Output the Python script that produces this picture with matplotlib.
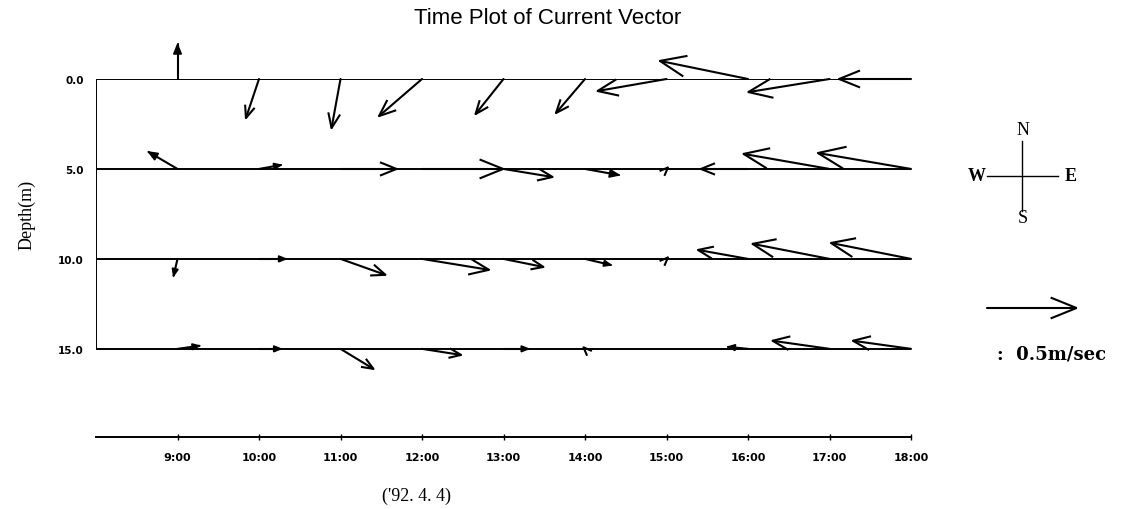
import matplotlib
matplotlib.use("Agg")
import matplotlib.pyplot as plt
import numpy as np

# time axis (hours) and depths (m)
hours = [9, 10, 11, 12, 13, 14, 15, 16, 17, 18]
hour_labels = ["9:00", "10:00", "11:00", "12:00", "13:00",
               "14:00", "15:00", "16:00", "17:00", "18:00"]
depths = [0.0, 5.0, 10.0, 15.0]
depth_labels = ["0.0", "5.0", "10.0", "15.0"]

# current components, m/s (u = east, v = north)
u_0m = [0.000, -0.073, -0.050, -0.240, -0.156, -0.162, -0.385, -0.492, -0.453, -0.402]
v_0m = [0.193, -0.218, -0.274, -0.207, -0.196, -0.190, -0.067, 0.101, -0.073, 0.000]

u_5m = [-0.162, 0.123, 0.313, 0.453, 0.274, 0.190, 0.008, -0.263, -0.480, -0.520]
v_5m = [0.095, 0.022, 0.000, 0.000, -0.045, -0.034, 0.008, 0.000, 0.084, 0.089]

u_10m = [-0.022, 0.151, 0.251, 0.374, 0.223, 0.145, 0.008, -0.279, -0.430, -0.447]
v_10m = [-0.095, 0.000, -0.089, -0.061, -0.045, -0.034, 0.008, 0.050, 0.084, 0.089]

u_15m = [0.123, 0.123, 0.184, 0.218, 0.140, -0.008, 0.000, -0.112, -0.318, -0.324]
v_15m = [0.017, 0.000, -0.112, -0.034, 0.000, 0.008, 0.000, 0.011, 0.045, 0.045]

ref_speed = 0.5  # m/s, scale arrow

PX_PER_MS = 179.0  # arrow length in pixels for 1 m/s
W, H = 1122, 510

fig = plt.figure(figsize=(W / 100, H / 100), dpi=100)
ax = fig.add_axes([96 / W, (H - 438) / H, 815 / W, 358 / H])
ax.set_xlim(8, 18)
ax.set_ylim(19.9, 0)

for s in ["top", "right", "left"]:
    ax.spines[s].set_visible(False)
ax.spines["bottom"].set_linewidth(1.4)
ax.set_xticks(hours)
ax.set_xticklabels(hour_labels, fontsize=8, fontweight="bold")
ax.tick_params(axis="x", direction="inout", length=5, width=1, pad=8)
ax.set_yticks(depths)
ax.set_yticklabels(depth_labels, fontsize=7.5, fontweight="bold")
ax.tick_params(axis="y", length=0, pad=9)

ax.hlines(depths, 8, 18, color="black", lw=1.4)
ax.vlines(8, 0, 15, color="black", lw=1.4)


def arrow(a, x, y, u, v, scale=PX_PER_MS):
    tr = a.transData
    x0, y0 = tr.transform((x, y))
    dx, dy = u * scale, v * scale
    L = np.hypot(dx, dy)
    if L == 0:
        return
    x1, y1 = x0 + dx, y0 + dy
    b = max(0.3 * L, 8)
    back = np.arctan2(-dy, -dx)
    barbs = []
    for sgn in (1, -1):
        ang = back + sgn * np.radians(22)
        barbs.append((x1 + b * np.cos(ang), y1 + b * np.sin(ang)))
    inv = tr.inverted()
    t0 = inv.transform((x0, y0))
    t1 = inv.transform((x1, y1))
    p1 = inv.transform(barbs[0])
    p2 = inv.transform(barbs[1])
    a.plot([t0[0], t1[0]], [t0[1], t1[1]], color="black", lw=1.5,
           solid_capstyle="round", clip_on=False)
    if 5 < L < 38:
        a.fill([p1[0], t1[0], p2[0]], [p1[1], t1[1], p2[1]],
               color="black", lw=1, clip_on=False)
    else:
        a.plot([p1[0], t1[0], p2[0]], [p1[1], t1[1], p2[1]], color="black",
               lw=1.5, solid_joinstyle="miter", clip_on=False)


for d, us, vs in zip(depths, [u_0m, u_5m, u_10m, u_15m],
                     [v_0m, v_5m, v_10m, v_15m]):
    for h, u, v in zip(hours, us, vs):
        arrow(ax, h, d, u, v)

# overlay in pixel coordinates for title, compass and scale
ov = fig.add_axes([0, 0, 1, 1])
ov.set_xlim(0, W)
ov.set_ylim(H, 0)
ov.axis("off")
ov.patch.set_visible(False)

ov.text(548, 18, "Time Plot of Current Vector", ha="center", va="center",
        fontsize=16, family="Liberation Sans")
ov.text(27, 215, "Depth(m)", ha="center", va="center", rotation=90,
        fontsize=13, family="Liberation Serif")
ov.text(417, 496, "('92. 4. 4)", ha="center", va="center",
        fontsize=13, family="Liberation Serif")

# compass
ov.plot([1022, 1022], [142, 212], color="black", lw=1)
ov.plot([987, 1058], [177, 177], color="black", lw=1)
ov.text(1023, 131, "N", ha="center", va="center", fontsize=13, family="Liberation Serif")
ov.text(1023, 219, "S", ha="center", va="center", fontsize=13, family="Liberation Serif")
ov.text(977, 177, "W", ha="center", va="center", fontsize=13, family="Liberation Serif", fontweight="bold")
ov.text(1071, 177, "E", ha="center", va="center", fontsize=13, family="Liberation Serif", fontweight="bold")

# scale arrow
arrow(ov, 987, 309, ref_speed, 0)
ov.text(1052, 355, ":  0.5m/sec", ha="center", va="center",
        fontsize=13, family="DejaVu Serif", fontweight="bold")

fig.savefig("out.png", dpi=100)
